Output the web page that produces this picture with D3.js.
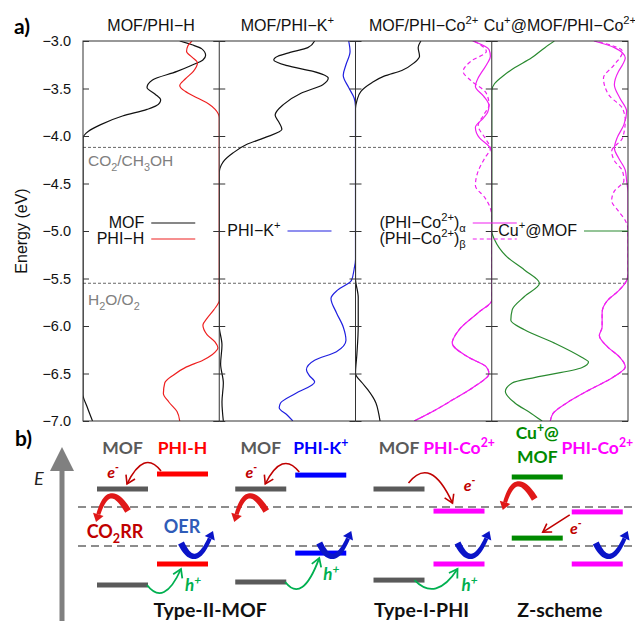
<!DOCTYPE html>
<html>
<head>
<meta charset="utf-8">
<script src="https://cdn.jsdelivr.net/npm/d3@7"></script>
<style>
  body { margin: 0; background: #fff; }
</style>
</head>
<body>
<div id="chart"></div>
<script>
// ---- panel a) data ----
const panelTitles = ["MOF/PHI−H", "MOF/PHI−K^{+}", "MOF/PHI−Co^{2+}", "Cu^{+}@MOF/PHI−Co^{2+}"];
const energyTicks = [-3.0, -3.5, -4.0, -4.5, -5.0, -5.5, -6.0, -6.5, -7.0];
const redoxLevels = [-4.12, -5.55];
const redoxLabels = ["CO_{2}/CH_{3}OH", "H_{2}O/O_{2}"];

// DOS curves as [energy (eV), DOS (a.u.)]
const dosMofH = [[-3.0,0.71],[-3.04,0.80],[-3.08,0.87],[-3.15,0.90],[-3.2,0.88],[-3.26,0.79],[-3.32,0.69],[-3.41,0.51],[-3.49,0.47],[-3.56,0.53],[-3.62,0.57],[-3.68,0.54],[-3.72,0.47],[-3.79,0.29],[-3.88,0.13],[-3.95,0.04],[-4.02,0.0],[-5.0,0.0],[-6.0,0.0],[-6.72,0.0],[-6.85,0.03],[-7.0,0.07]];
const dosPhiH = [[-3.0,0.20],[-3.05,0.23],[-3.11,0.24],[-3.17,0.20],[-3.23,0.16],[-3.32,0.19],[-3.40,0.25],[-3.47,0.29],[-3.53,0.25],[-3.60,0.16],[-3.66,0.08],[-3.72,0.03],[-3.81,0.0],[-5.0,0.0],[-5.73,0.0],[-5.83,0.04],[-5.92,0.09],[-5.99,0.12],[-6.09,0.09],[-6.17,0.03],[-6.23,0.01],[-6.30,0.05],[-6.36,0.12],[-6.43,0.24],[-6.52,0.34],[-6.60,0.40],[-6.71,0.41],[-6.80,0.37],[-6.90,0.31],[-7.0,0.29]];
const dosMofK = [[-3.0,0.70],[-3.07,0.65],[-3.12,0.52],[-3.16,0.43],[-3.2,0.40],[-3.26,0.50],[-3.32,0.69],[-3.39,0.80],[-3.46,0.76],[-3.55,0.60],[-3.67,0.47],[-3.78,0.41],[-3.86,0.44],[-3.93,0.46],[-4.02,0.33],[-4.09,0.20],[-4.18,0.10],[-4.27,0.03],[-4.39,0.0],[-5.5,0.0],[-6.0,0.0],[-6.2,0.02],[-6.4,0.01],[-6.6,0.03],[-6.8,0.02],[-7.0,0.03]];
const dosPhiK = [[-3.0,0.05],[-3.11,0.04],[-3.25,0.07],[-3.36,0.09],[-3.49,0.05],[-3.6,0.01],[-3.69,0.0],[-5.0,0.0],[-5.3,0.0],[-5.4,0.01],[-5.52,0.03],[-5.62,0.13],[-5.71,0.18],[-5.86,0.14],[-6.01,0.09],[-6.15,0.07],[-6.27,0.14],[-6.36,0.30],[-6.46,0.36],[-6.52,0.34],[-6.59,0.30],[-6.71,0.44],[-6.81,0.55],[-6.86,0.56],[-6.94,0.50],[-7.0,0.46]];
const dosMofCo = [[-3.0,0.48],[-3.07,0.46],[-3.16,0.47],[-3.23,0.43],[-3.31,0.34],[-3.37,0.21],[-3.44,0.12],[-3.53,0.04],[-3.63,0.01],[-3.71,0.0],[-5.5,0.0],[-5.7,0.02],[-6.0,0.02],[-6.3,0.01],[-6.5,0.0],[-6.6,0.05],[-6.67,0.09],[-6.81,0.15],[-6.92,0.17],[-7.0,0.18]];
const dosPhiCoA = [[-3.0,0.14],[-3.09,0.02],[-3.16,0.01],[-3.23,0.03],[-3.32,0.07],[-3.39,0.10],[-3.48,0.12],[-3.58,0.06],[-3.68,0.02],[-3.75,0.03],[-3.81,0.06],[-3.91,0.12],[-4.02,0.09],[-4.11,0.02],[-4.18,0.0],[-5.0,0.0],[-5.73,0.0],[-5.86,0.10],[-6.04,0.24],[-6.18,0.29],[-6.33,0.17],[-6.43,0.04],[-6.5,0.02],[-6.64,0.13],[-6.78,0.29],[-6.92,0.46],[-7.0,0.57]];
const dosPhiCoB = [[-3.0,0.13],[-3.11,0.04],[-3.21,0.15],[-3.32,0.21],[-3.42,0.15],[-3.55,0.04],[-3.67,0.02],[-3.78,0.06],[-3.89,0.10],[-4.02,0.05],[-4.13,0.01],[-4.23,0.05],[-4.37,0.10],[-4.52,0.12],[-4.65,0.05],[-4.76,0.01],[-4.85,0.0],[-5.73,0.0],[-5.86,0.10],[-6.04,0.24],[-6.18,0.29],[-6.33,0.17],[-6.43,0.04],[-6.5,0.02],[-6.64,0.13],[-6.78,0.29],[-6.92,0.46],[-7.0,0.57]];
const dosCuMof = [[-3.0,0.46],[-3.07,0.39],[-3.18,0.29],[-3.28,0.17],[-3.36,0.09],[-3.45,0.02],[-3.52,0.0],[-4.9,0.0],[-5.0,0.0],[-5.09,0.02],[-5.27,0.11],[-5.41,0.24],[-5.55,0.35],[-5.69,0.24],[-5.83,0.15],[-5.94,0.14],[-6.04,0.24],[-6.18,0.46],[-6.33,0.66],[-6.38,0.71],[-6.44,0.66],[-6.54,0.32],[-6.6,0.15],[-6.69,0.10],[-6.81,0.17],[-6.92,0.29],[-7.0,0.37]];
const dosCuPhiCoA = [[-3.0,0.25],[-3.07,0.10],[-3.18,0.02],[-3.25,0.04],[-3.32,0.07],[-3.46,0.10],[-3.60,0.06],[-3.74,0.01],[-3.88,0.03],[-4.02,0.08],[-4.13,0.10],[-4.23,0.07],[-4.36,0.02],[-4.47,0.01],[-4.6,0.0],[-5.45,0.0],[-5.52,0.01],[-5.63,0.07],[-5.73,0.15],[-5.86,0.19],[-6.01,0.19],[-6.1,0.21],[-6.22,0.15],[-6.33,0.06],[-6.43,0.02],[-6.54,0.11],[-6.67,0.28],[-6.81,0.45],[-6.92,0.55],[-7.0,0.57]];
const dosCuPhiCoB = [[-3.0,0.24],[-3.11,0.04],[-3.25,0.10],[-3.39,0.18],[-3.57,0.14],[-3.71,0.04],[-3.84,0.02],[-4.02,0.04],[-4.16,0.12],[-4.26,0.10],[-4.37,0.04],[-4.47,0.03],[-4.58,0.10],[-4.68,0.12],[-4.79,0.07],[-4.89,0.02],[-4.99,0.0],[-5.45,0.0],[-5.52,0.01],[-5.63,0.07],[-5.73,0.15],[-5.86,0.19],[-6.01,0.19],[-6.1,0.21],[-6.22,0.15],[-6.33,0.06],[-6.43,0.02],[-6.54,0.11],[-6.67,0.28],[-6.81,0.45],[-6.92,0.55],[-7.0,0.57]];

// ---- panel b) data (band edges, eV) ----
const schemeMofLabels = ["MOF", "MOF", "MOF", "Cu^{+}@|MOF"];
const schemePhiLabels = ["PHI-H", "PHI-K^{+}", "PHI-Co^{2+}", "PHI-Co^{2+}"];
const schemeMofCB = [-3.46, -3.46, -3.46, -3.02];
const schemePhiCB = [-2.91, -2.95, -4.27, -4.30];
const schemeMofVB = [-6.98, -6.87, -6.80, -5.26];
const schemePhiVB = [-6.21, -5.81, -6.21, -6.21];
const schemeTypes = ["Type-II-MOF", "Type-I-PHI", "Z-scheme"];
const schemeTypeGroups = [[0, 1], [2], [3]];

const C = {
    black: "#111", red: "#ee2020", blue: "#2020e0", magenta: "#f020f0", green: "#2a8a30",
    grey: "#5a5a5a", darkRed: "#c00000", barRed: "#ff0000", barBlue: "#0000ff",
    barMag: "#ff00ff", barGreen: "#008a00", hole: "#00b050", oer: "#0a14c8"
};

const W = 635, H = 623;
const svg = d3.select("#chart").append("svg")
    .attr("width", W).attr("height", H)
    .style("font-family", "'Liberation Sans', Arial, sans-serif");

// tiny markup: ^{..} superscript, _{..} subscript
function rich(sel, str, size) {
    let off = 0;
    str.split(/(\^\{[^}]*\}|_\{[^}]*\})/).filter(Boolean).forEach(p => {
        let target = 0, txt = p, fs = size;
        if (p[0] === "^") { target = -0.42; txt = p.slice(2, -1); fs = size * 0.7; }
        else if (p[0] === "_") { target = 0.28; txt = p.slice(2, -1); fs = size * 0.7; }
        sel.append("tspan")
            .attr("dy", ((target - off) * size).toFixed(2))
            .attr("font-size", fs)
            .text(txt);
        off = target;
    });
    return sel;
}

// ===================== a) =====================
const plot = { left: 83, right: 628, top: 41, bottom: 421 };
const xPanel = d3.scaleBand().domain(d3.range(4)).range([plot.left, plot.right]);
const yE = d3.scaleLinear().domain([-7, -3]).range([plot.bottom, plot.top]);
const dosX = d3.scaleLinear().domain([0, 1]).range([0, xPanel.bandwidth()]);

const dosSeries = [
    { panel: 0, side: "left", values: dosMofH, color: C.black },
    { panel: 0, side: "right", values: dosPhiH, color: C.red },
    { panel: 1, side: "left", values: dosMofK, color: C.black },
    { panel: 1, side: "right", values: dosPhiK, color: C.blue },
    { panel: 2, side: "left", values: dosMofCo, color: C.black },
    { panel: 2, side: "right", values: dosPhiCoA, color: C.magenta },
    { panel: 2, side: "right", values: dosPhiCoB, color: C.magenta, dash: "4,3" },
    { panel: 3, side: "left", values: dosCuMof, color: C.green },
    { panel: 3, side: "right", values: dosCuPhiCoA, color: C.magenta },
    { panel: 3, side: "right", values: dosCuPhiCoB, color: C.magenta, dash: "4,3" }
];

const defs = svg.append("defs");
d3.range(4).forEach(i => {
    defs.append("clipPath").attr("id", "clip" + i).append("rect")
        .attr("x", xPanel(i)).attr("y", plot.top)
        .attr("width", xPanel.bandwidth()).attr("height", plot.bottom - plot.top);
});

const gA = svg.append("g");

// redox reference lines
gA.selectAll(".redox").data(redoxLevels).enter().append("line")
    .attr("x1", plot.left).attr("x2", plot.right)
    .attr("y1", d => yE(d)).attr("y2", d => yE(d))
    .attr("stroke", "#555").attr("stroke-width", 0.9).attr("stroke-dasharray", "3,2");

gA.selectAll(".redoxLabel").data(redoxLabels).enter().append("text")
    .attr("x", plot.left + 5)
    .attr("y", (d, i) => yE(redoxLevels[i]) + (i === 0 ? 19 : 22))
    .attr("fill", "#808080").attr("font-size", 15.5)
    .each(function (d) { rich(d3.select(this), d, 15.5); });

// DOS curves
dosSeries.forEach(s => {
    const x0 = xPanel(s.panel), x1 = x0 + xPanel.bandwidth();
    const line = d3.line()
        .x(d => s.side === "left" ? x0 + dosX(d[1]) : x1 - dosX(d[1]))
        .y(d => yE(d[0]))
        .curve(d3.curveMonotoneY);
    gA.append("path")
        .attr("clip-path", `url(#clip${s.panel})`)
        .attr("d", line(s.values.slice().sort((a, b) => a[0] - b[0])))
        .attr("fill", "none").attr("stroke", s.color).attr("stroke-width", 1.2)
        .attr("stroke-dasharray", s.dash || null);
});

// frame and panel dividers
gA.append("rect")
    .attr("x", plot.left).attr("y", plot.top)
    .attr("width", plot.right - plot.left).attr("height", plot.bottom - plot.top)
    .attr("fill", "none").attr("stroke", "#333").attr("stroke-width", 1);
d3.range(1, 4).forEach(i => {
    gA.append("line").attr("x1", xPanel(i)).attr("x2", xPanel(i))
        .attr("y1", plot.top).attr("y2", plot.bottom)
        .attr("stroke", "#333").attr("stroke-width", 1);
});

// ticks
const tickAxes = [];
d3.range(5).forEach(i => {
    const x = i < 4 ? xPanel(i) : plot.right;
    if (i > 0) tickAxes.push({ x, axis: d3.axisLeft(yE) });
    if (i < 4) tickAxes.push({ x, axis: d3.axisRight(yE) });
});
tickAxes.forEach(t => {
    const g = gA.append("g").attr("transform", `translate(${t.x},0)`)
        .call(t.axis.tickValues(energyTicks).tickSize(6).tickFormat(""));
    g.select(".domain").remove();
    g.selectAll("line").attr("stroke", "#333");
});
const yLabels = gA.append("g").attr("transform", `translate(${plot.left},0)`)
    .call(d3.axisLeft(yE).tickValues(energyTicks).tickSize(0).tickPadding(12)
        .tickFormat(d3.format(".1f")));
yLabels.select(".domain").remove();
yLabels.selectAll("text").attr("font-size", 14.5).attr("fill", "#111")
    .attr("font-family", "'Liberation Sans', Arial, sans-serif");

gA.append("text")
    .attr("transform", `translate(27,${(plot.top + plot.bottom) / 2}) rotate(-90)`)
    .attr("text-anchor", "middle").attr("font-size", 16).attr("fill", "#111")
    .text("Energy (eV)");

// panel titles
panelTitles.forEach((t, i) => {
    rich(gA.append("text")
        .attr("x", xPanel(i) + xPanel.bandwidth() / 2).attr("y", 31)
        .attr("text-anchor", "middle").attr("fill", "#111"), t, 16);
});

// legends
const legends = [
    { panel: 0, end: -24, rows: [{ t: "MOF", c: C.black }, { t: "PHI−H", c: C.red }] },
    { panel: 1, end: -24, rows: [{ t: "PHI−K^{+}", c: C.blue }] },
    { panel: 2, end: 25, rows: [{ t: "(PHI−Co^{2+})_{α}", c: C.magenta }, { t: "(PHI−Co^{2+})_{β}", c: C.magenta, dash: "4,3" }] },
    { panel: 3, end: 0, rows: [{ t: "Cu^{+}@MOF", c: C.green }] }
];
legends.forEach(l => {
    const xEnd = xPanel(l.panel) + xPanel.bandwidth() + l.end;
    const xStart = xEnd - 44;
    l.rows.forEach((r, j) => {
        const y = yE(-5.0) + (l.rows.length === 2 ? (j === 0 ? -8 : 8) : 0);
        gA.append("line").attr("x1", xStart).attr("x2", xEnd).attr("y1", y).attr("y2", y)
            .attr("stroke", r.c).attr("stroke-width", 1.2).attr("stroke-dasharray", r.dash || null);
        rich(gA.append("text").attr("x", xStart - 7).attr("y", y + 5)
            .attr("text-anchor", "end").attr("fill", "#111"), r.t, 16);
    });
});

svg.append("text").attr("x", 14).attr("y", 34)
    .attr("font-family", "Lato, sans-serif").attr("font-weight", "bold").attr("font-size", 21)
    .text("a)");

// ===================== b) =====================
const gB = svg.append("g").attr("font-family", "Lato, 'Open Sans', sans-serif");
gB.append("text").attr("x", 15).attr("y", 446)
    .attr("font-weight", "bold").attr("font-size", 21).text("b)");

// energy axis arrow
gB.append("line").attr("x1", 62).attr("x2", 62).attr("y1", 621).attr("y2", 468)
    .attr("stroke", "#808080").attr("stroke-width", 5);
gB.append("path").attr("d", "M50,471L74,471L62,447Z").attr("fill", "#808080");
gB.append("text").attr("x", 34).attr("y", 485)
    .attr("font-style", "italic").attr("font-size", 18).attr("fill", "#222").text("E");

const yS = d3.scaleLinear().domain(redoxLevels).range([507, 546]);
const xS = d3.scaleBand().domain(d3.range(4)).range([83, 636]);
const xBar = d3.scaleBand().domain(["MOF", "PHI"]).range([14, 125]).paddingInner(0.15);
const bw = xBar.bandwidth();

gB.selectAll(".schemeRedox").data(redoxLevels).enter().append("line")
    .attr("x1", 78).attr("x2", W)
    .attr("y1", d => yS(d)).attr("y2", d => yS(d))
    .attr("stroke", "#8c8c8c").attr("stroke-width", 2).attr("stroke-dasharray", "8,5");

const mofColors = [C.grey, C.grey, C.grey, C.barGreen];
const phiColors = [C.barRed, C.barBlue, C.barMag, C.barMag];
const bars = [];
d3.range(4).forEach(i => {
    bars.push({ g: i, side: "MOF", e: schemeMofCB[i], c: mofColors[i] });
    bars.push({ g: i, side: "MOF", e: schemeMofVB[i], c: mofColors[i] });
    bars.push({ g: i, side: "PHI", e: schemePhiCB[i], c: phiColors[i] });
    bars.push({ g: i, side: "PHI", e: schemePhiVB[i], c: phiColors[i] });
});
gB.selectAll(".bar").data(bars).enter().append("rect")
    .attr("x", d => xS(d.g) + xBar(d.side)).attr("y", d => yS(d.e) - 2.5)
    .attr("width", bw).attr("height", 5).attr("fill", d => d.c);

// group labels
d3.range(4).forEach(i => {
    const mx = xS(i) + xBar("MOF") + bw / 2, px = xS(i) + xBar("PHI") + bw / 2;
    const mLines = schemeMofLabels[i].split("|");
    mLines.forEach((t, j) => {
        rich(gB.append("text").attr("x", mx).attr("y", mLines.length > 1 ? 439 + j * 24 : 454)
            .attr("text-anchor", "middle").attr("font-weight", "bold").attr("fill", mofColors[i]), t, 17.5);
    });
    rich(gB.append("text").attr("x", px).attr("y", 454)
        .attr("text-anchor", "middle").attr("font-weight", "bold").attr("fill", phiColors[i]), schemePhiLabels[i], 17.5);
});

schemeTypes.forEach((t, k) => {
    const gs = schemeTypeGroups[k];
    const cx = d3.mean(gs, i => xS(i) + 62) - (gs.length > 1 ? 4 : 0);
    gB.append("text").attr("x", cx).attr("y", 617).attr("text-anchor", "middle")
        .attr("font-weight", "bold").attr("font-size", 19.5).attr("fill", "#111").text(t);
});

// arrow helpers
function qPt(p0, c, p1, t) { const u = 1 - t; return [u * u * p0[0] + 2 * u * t * c[0] + t * t * p1[0], u * u * p0[1] + 2 * u * t * c[1] + t * t * p1[1]]; }
function qTan(p0, c, p1, t) { const u = 1 - t; return [2 * u * (c[0] - p0[0]) + 2 * t * (p1[0] - c[0]), 2 * u * (c[1] - p0[1]) + 2 * t * (p1[1] - c[1])]; }
function unit(v) { const l = Math.hypot(v[0], v[1]); return [v[0] / l, v[1] / l]; }

function fatArrow(p0, c, p1, w0, w1, hl, hw, color) {
    const d = unit(qTan(p0, c, p1, 1));
    const base = [p1[0] - d[0] * hl, p1[1] - d[1] * hl];
    const L = [], R = [];
    for (let i = 0; i <= 24; i++) {
        const t = i / 24, p = qPt(p0, c, base, t), n = unit(qTan(p0, c, base, t)), w = (w0 + (w1 - w0) * t) / 2;
        L.push([p[0] - n[1] * w, p[1] + n[0] * w]);
        R.push([p[0] + n[1] * w, p[1] - n[0] * w]);
    }
    gB.append("path").attr("d", d3.line()(L.concat(R.reverse())) + "Z").attr("fill", color);
    const e = unit(qTan(p0, c, base, 1));
    gB.append("path").attr("fill", color).attr("d", d3.line()([
        [base[0] - e[1] * hw / 2, base[1] + e[0] * hw / 2], p1,
        [base[0] + e[1] * hw / 2, base[1] - e[0] * hw / 2]]) + "Z");
}

function thinArrow(p0, c, p1, color, sw) {
    gB.append("path").attr("d", `M${p0}Q${c} ${p1}`)
        .attr("fill", "none").attr("stroke", color).attr("stroke-width", sw);
    const d = unit(qTan(p0, c, p1, 1));
    gB.append("path").attr("fill", "none").attr("stroke", color).attr("stroke-width", sw)
        .attr("stroke-linejoin", "miter")
        .attr("d", d3.line()([
            [p1[0] - d[0] * 8 - d[1] * 5, p1[1] - d[1] * 8 + d[0] * 5], p1,
            [p1[0] - d[0] * 8 + d[1] * 5, p1[1] - d[1] * 8 - d[0] * 5]]));
}

function label(x, y, str, color, size, italic) {
    rich(gB.append("text").attr("x", x).attr("y", y).attr("text-anchor", "middle")
        .attr("font-weight", "bold").attr("font-style", italic ? "italic" : null)
        .attr("fill", color), str, size);
}

d3.range(4).forEach(i => {
    const mL = xS(i) + xBar("MOF"), mR = mL + bw, pL = xS(i) + xBar("PHI");
    const yMc = yS(schemeMofCB[i]), yMv = yS(schemeMofVB[i]);
    const yPc = yS(schemePhiCB[i]), yPv = yS(schemePhiVB[i]);
    const yOx = yS(redoxLevels[1]);

    // electron transfer
    if (i < 2) {
        const p0 = [pL + 4, yPc - 3], p1 = [mL + 30, yMc - 5];
        thinArrow(p0, [(p0[0] + p1[0]) / 2, Math.min(p0[1], p1[1]) - 22], p1, C.darkRed, 1.6);
        label(p1[0] - 14, p1[1] - 6, "e^{-}", C.darkRed, 16, true);
    } else if (i === 2) {
        const p0 = [mL + 35, yMc - 6], p1 = [pL + 19, yPc - 8];
        thinArrow(p0, [(p0[0] + p1[0]) / 2, Math.min(p0[1], p1[1]) - 28], p1, C.darkRed, 1.6);
        label(p1[0] + 17, p1[1] - 12, "e^{-}", C.darkRed, 16, true);
    } else {
        const p0 = [pL - 2, yPc + 3], p1 = [mL + 31, yMv - 6];
        thinArrow(p0, [(p0[0] + p1[0]) / 2, (p0[1] + p1[1]) / 2], p1, C.darkRed, 1.6);
        label(p0[0] + 6, p0[1] + 19, "e^{-}", C.darkRed, 16, true);
    }

    // CO2 reduction
    if (i !== 2) {
        const dx = i === 3 ? -8 : 0;
        fatArrow([mL + 31 + dx, yMc + 22], [mL + 12 + dx, yMc - 10], [mL - 1 + dx, yMc + 33], 6.5, 4, 8, 11, "#e01818");
    }
    // oxygen evolution
    fatArrow([pL + 24, yOx - 3], [pL + 38, yOx + 26], [pL + 56, yOx - 15], 6.5, 4, 8, 11, C.oer);

    // hole transfer
    if (i < 3) {
        const p0 = [i === 2 ? mR - 10 : mR - 1, yMv], p1 = [pL + 24, yPv + 5];
        thinArrow(p0, [(p0[0] + p1[0]) / 2, yMv + 22], p1, C.hole, 1.8);
        label(p1[0] + 12, p1[1] + 22, "h^{+}", C.hole, 17, true);
    }

    if (i === 0) {
        label(mL + 18, yMc + 49, "CO_{2}RR", C.darkRed, 18);
        label(pL + 25, yOx - 13, "OER", "#2f5cb8", 18);
    }
});
</script>
</body>
</html>
